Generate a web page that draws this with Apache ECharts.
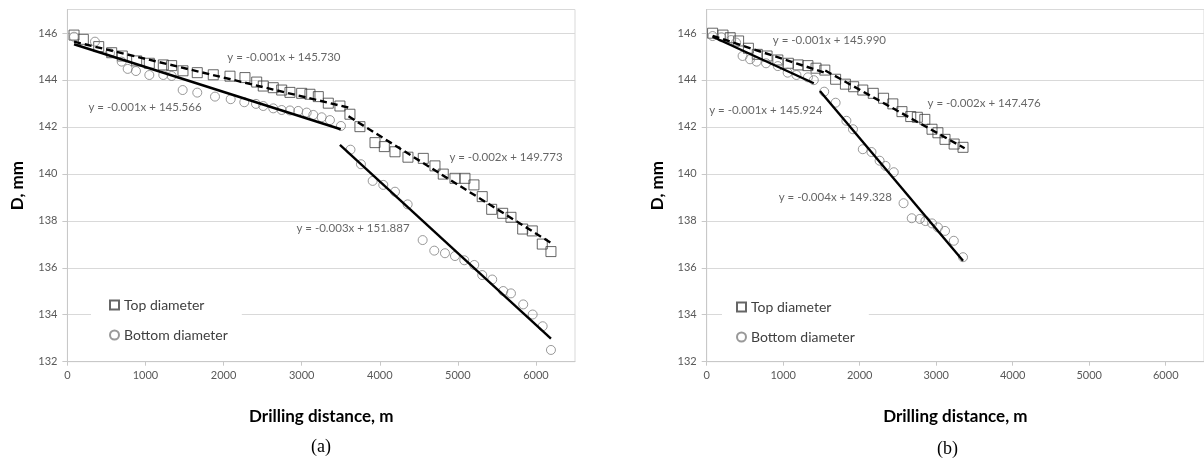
<!DOCTYPE html>
<html>
<head>
<meta charset="utf-8">
<script src="https://cdn.jsdelivr.net/npm/echarts@6/dist/echarts.min.js"></script>
<style>
html,body{margin:0;padding:0;background:#fff;}
#c{width:1204px;height:469px;}
</style>
</head>
<body>
<div id="c"></div>
<script>
// ---------- DATA ----------
// Chart (a)
const topA = [[85,145.91],[204,145.73],[401,145.42],[567,145.16],[703,145.02],[887,144.81],[1049,144.71],[1228,144.64],[1335,144.61],[1480,144.39],[1663,144.31],[1868,144.22],[2082,144.16],[2274,144.10],[2424,143.91],[2508,143.74],[2636,143.67],[2744,143.57],[2850,143.47],[3000,143.43],[3106,143.39],[3213,143.29],[3341,143.01],[3490,142.89],[3618,142.54],[3746,142.01],[3939,141.33],[4058,141.16],[4195,140.94],[4361,140.71],[4557,140.66],[4707,140.34],[4813,139.99],[4963,139.81],[5091,139.81],[5206,139.53],[5312,139.03],[5433,138.49],[5574,138.32],[5680,138.15],[5830,137.65],[5953,137.57],[6081,137.01],[6192,136.69]];
const bottomA = [[85,145.84],[353,145.63],[545,145.14],[695,144.78],[772,144.47],[878,144.38],[1049,144.21],[1228,144.21],[1335,144.17],[1476,143.57],[1663,143.46],[1890,143.29],[2091,143.18],[2265,143.05],[2415,142.98],[2508,142.89],[2636,142.79],[2744,142.72],[2850,142.70],[2956,142.68],[3064,142.61],[3149,142.51],[3256,142.41],[3362,142.29],[3503,142.04],[3625,141.03],[3759,140.41],[3909,139.70],[4045,139.53],[4195,139.24],[4357,138.70],[4549,137.18],[4698,136.73],[4835,136.62],[4963,136.50],[5082,136.32],[5210,136.12],[5312,135.69],[5440,135.50],[5581,135.01],[5680,134.91],[5837,134.44],[5958,134.01],[6086,133.51],[6192,132.50]];
const trendTopA1 = [[85,145.63],[3640,142.79]];
const trendTopA2 = [[3600,142.45],[6192,137.06]];
const trendBotA1 = [[85,145.52],[3500,141.90]];
const trendBotA2 = [[3490,141.23],[6192,132.98]];
const eqA = [[2773,144.98,'y = -0.001x + 145.730'],[994,142.85,'y = -0.001x + 145.566'],[5616,140.72,'y = -0.002x + 149.773'],[3657,137.70,'y = -0.003x + 151.887']];

// Chart (b)
const topB = [[77,145.99],[213,145.91],[307,145.80],[417,145.66],[545,145.35],[661,145.09],[789,145.02],[930,144.85],[1067,144.71],[1195,144.64],[1323,144.61],[1429,144.50],[1544,144.42],[1685,144.03],[1813,143.82],[1921,143.71],[2040,143.57],[2177,143.43],[2312,143.22],[2433,142.98],[2552,142.65],[2667,142.44],[2753,142.41],[2851,142.32],[2945,141.90],[3022,141.75],[3115,141.47],[3234,141.27],[3350,141.13]];
const bottomB = [[77,145.87],[192,145.82],[320,145.70],[384,145.59],[469,145.02],[567,144.88],[653,144.78],[776,144.71],[930,144.59],[1058,144.31],[1173,144.21],[1323,144.11],[1400,143.99],[1536,143.50],[1685,143.03],[1826,142.26],[1912,141.90],[2040,141.05],[2154,140.93],[2260,140.56],[2337,140.34],[2445,140.07],[2573,138.75],[2680,138.11],[2786,138.08],[2859,137.99],[2945,137.89],[3022,137.72],[3115,137.57],[3230,137.15],[3350,136.45]];
const trendTopB1 = [[77,145.88],[1550,144.30]];
const trendTopB2 = [[1550,144.40],[3371,141.09]];
const trendBotB1 = [[77,145.84],[1400,143.86]];
const trendBotB2 = [[1480,143.53],[3350,136.30]];
const eqB = [[1604,145.70,'y = -0.001x + 145.990'],[772,142.72,'y = -0.001x + 145.924'],[3627,143.02,'y = -0.002x + 147.476'],[1681,139.02,'y = -0.004x + 149.328']];

const seriesNames = ['Top diameter','Bottom diameter'];
const xTitle = 'Drilling distance, m';
const yTitle = 'D, mm';
const panelLabels = ['(a)','(b)'];

// ---------- STYLE ----------
const FONT = 'Lato';
const axisGray = '#c8c8c8';
const gridGray = '#d9d9d9';
const labelGray = '#595959';

function xAxis(gi){
  return {
    type:'value', gridIndex:gi, min:0, max:6500, interval:1000,
    name:xTitle, nameLocation:'middle', nameGap:46,
    nameTextStyle:{fontFamily:FONT,fontWeight:'bold',fontSize:17,color:'#000'},
    axisLine:{show:true,lineStyle:{color:axisGray,width:1}},
    axisTick:{show:true,length:4,lineStyle:{color:axisGray}},
    axisLabel:{showMaxLabel:false,formatter:v=>String(v),fontFamily:FONT,fontSize:11,color:labelGray,margin:8},
    splitLine:{show:false}
  };
}
function yAxis(gi){
  return {
    type:'value', gridIndex:gi, min:132, max:147, interval:2,
    name:yTitle, nameLocation:'middle', nameGap:41, nameRotate:90,
    nameTextStyle:{fontFamily:FONT,fontWeight:'bold',fontSize:17,color:'#000'},
    axisLine:{show:true,lineStyle:{color:axisGray,width:1}},
    axisTick:{show:true,length:5,lineStyle:{color:axisGray}},
    axisLabel:{showMaxLabel:false,formatter:v=>String(v),fontFamily:FONT,fontSize:11,color:labelGray,margin:10},
    splitLine:{show:true,lineStyle:{color:gridGray,width:1}}
  };
}
function scatter(name,data,symbol,gi,size,color){
  return {
    type:'scatter', name:name, xAxisIndex:gi, yAxisIndex:gi, data:data,
    symbol:symbol, symbolSize:size, z:2, silent:true,
    itemStyle:{color:'rgba(255,255,255,0)',borderColor:color,borderWidth:1}
  };
}
function trend(data,gi,dashed){
  return {
    type:'line', xAxisIndex:gi, yAxisIndex:gi, data:data, symbol:'none', z:3, silent:true,
    lineStyle:{color:'#000',width:2.4,type:dashed?[7,4]:'solid'}
  };
}
function eqSeries(data,gi){
  return {
    type:'scatter', xAxisIndex:gi, yAxisIndex:gi, data:data, symbolSize:0.1, z:4, silent:true,
    itemStyle:{color:'rgba(0,0,0,0)'},
    label:{show:true,position:'inside',formatter:p=>p.data[2],fontFamily:FONT,fontSize:11.5,color:'#404040'}
  };
}
function legend(left,top,padL){
  return {
    data:seriesNames, orient:'vertical', left:left, top:top,
    padding:[4,14,4,padL], itemGap:16, itemWidth:9, itemHeight:9,
    backgroundColor:'#fff',
    textStyle:{fontFamily:FONT,fontSize:14,color:'#404040'},
    selectedMode:false
  };
}

const chart = echarts.init(document.getElementById('c'),null,{renderer:'canvas'});
chart.setOption({
  animation:false,
  backgroundColor:'#fff',
  grid:[
    {left:67.4,top:9.5,width:507.6,height:352.2,show:true,borderColor:gridGray,borderWidth:1,containLabel:false},
    {left:706.7,top:9.5,width:507.6,height:352.2,show:true,borderColor:gridGray,borderWidth:1,containLabel:false}
  ],
  xAxis:[xAxis(0),xAxis(1)],
  yAxis:[yAxis(0),yAxis(1)],
  legend:[legend(91,294,18),legend(722,296,14)],
  series:[
    scatter(seriesNames[0],topA,'rect',0,10,'#404040'),
    scatter(seriesNames[1],bottomA,'circle',0,9,'#7f7f7f'),
    trend(trendTopA1,0,true), trend(trendTopA2,0,true),
    trend(trendBotA1,0,false), trend(trendBotA2,0,false),
    eqSeries(eqA,0),
    scatter(seriesNames[0],topB,'rect',1,10,'#404040'),
    scatter(seriesNames[1],bottomB,'circle',1,9,'#7f7f7f'),
    trend(trendTopB1,1,true), trend(trendTopB2,1,true),
    trend(trendBotB1,1,false), trend(trendBotB2,1,false),
    eqSeries(eqB,1)
  ],
  graphic:[
    {type:'text',left:311,top:438,style:{text:panelLabels[0],font:'18px "Liberation Serif"',fill:'#000'}},
    {type:'text',left:937,top:440,style:{text:panelLabels[1],font:'18px "Liberation Serif"',fill:'#000'}}
  ]
});
</script>
</body>
</html>
